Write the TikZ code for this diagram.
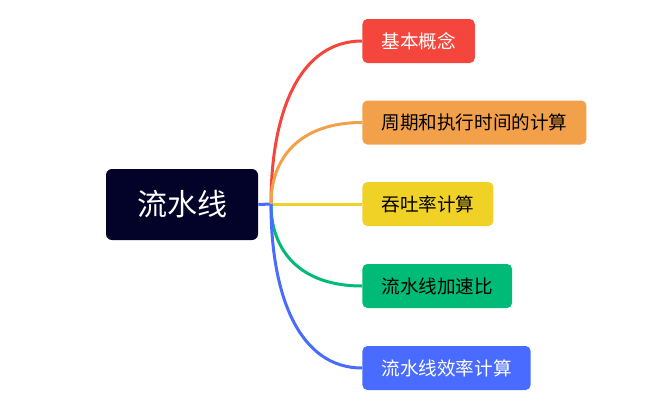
\documentclass[tikz,border=0pt]{standalone}
\usepackage{fontspec}
\setmainfont{Noto Sans CJK SC}
\usetikzlibrary{positioning,calc}

\definecolor{rootbg}{HTML}{03032A}
\definecolor{mred}{HTML}{F4463D}
\definecolor{morange}{HTML}{F3A04B}
\definecolor{myellow}{HTML}{F0D126}
\definecolor{mgreen}{HTML}{00BB77}
\definecolor{mblue}{HTML}{4A6BFF}

\begin{document}
\begin{tikzpicture}[x=0.5pt,y=-0.5pt]
  \tikzstyle{topic}=[rounded corners=2.5pt,minimum height=22pt,inner xsep=9.5pt,font=\fontsize{9.3}{11}\selectfont,anchor=west]
  \tikzstyle{link}=[line width=1.5pt]
  \useasboundingbox (0,0) rectangle (653,418);
  \node[fill=rootbg,text=white,rounded corners=3pt,minimum width=76pt,minimum height=35.5pt,font=\fontsize{15}{18}\selectfont] (root) at (182,204.5) {流水线};
  \coordinate (j) at (271,204);
  \node[topic,fill=mred,text=white] (gainian) at (362,41) {基本概念};
  \node[topic,fill=morange,text=black] (zhouqi) at (362,122.5) {周期和执行时间的计算};
  \node[topic,fill=myellow,text=black] (tuntu) at (362,204) {吞吐率计算};
  \node[topic,fill=mgreen,text=black] (jiasu) at (362,286) {流水线加速比};
  \node[topic,fill=mblue,text=white] (xiaolv) at (362,368) {流水线效率计算};
  \draw[link,mblue] (root.east) -- (j);
  \draw[link,mred] (j) .. controls ($(j)!0.57!(j|-gainian.west)$) and ($(gainian.west)+(-62,0)$) .. (gainian.west);
  \draw[link,morange] (j) .. controls ($(j)!0.57!(j|-zhouqi.west)$) and ($(zhouqi.west)+(-62,0)$) .. (zhouqi.west);
  \draw[link,myellow] (j) -- (tuntu.west);
  \draw[link,mgreen] (j) .. controls ($(j)!0.57!(j|-jiasu.west)$) and ($(jiasu.west)+(-62,0)$) .. (jiasu.west);
  \draw[link,mblue] (j) .. controls ($(j)!0.57!(j|-xiaolv.west)$) and ($(xiaolv.west)+(-62,0)$) .. (xiaolv.west);
\end{tikzpicture}
\end{document}
